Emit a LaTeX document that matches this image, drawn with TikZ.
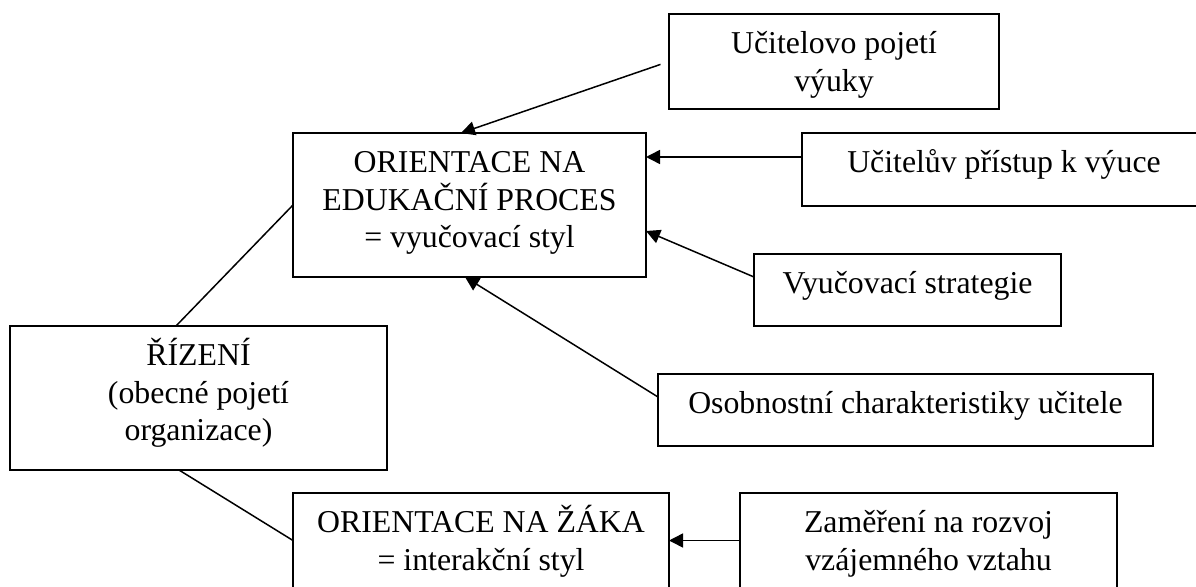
\documentclass[tikz,border=0pt]{standalone}
\usepackage{fontspec}
\setmainfont{Liberation Serif}
\usetikzlibrary{arrows.meta}
% box contents: width, height, lines (first baseline fixed below the top edge)
\newcommand{\boxlines}[3]{\parbox[c][#2][t]{#1}{\centering\rule{0pt}{39.5pt}#3}}
\tikzset{
  frame/.style={draw, line width=2.5pt, inner sep=0pt, outer sep=0pt},
  link/.style={line width=1.5pt},
  feed/.style={link, -{Triangle[length=14pt,width=14pt]}},
}
\begin{document}
\begin{tikzpicture}[x=1pt, y=-1pt, font=\fontsize{31.8}{37.5}\selectfont]
\useasboundingbox (0,0) rectangle (1196,586);
\clip (0,0) rectangle (1196,586);

% boxes
\node[frame] (b1)      at (834,61.5)   {\boxlines{330pt}{95pt}{Učitelovo pojetí\\výuky}};
\node[frame] (edu)     at (469.5,205)  {\boxlines{353pt}{144pt}{ORIENTACE NA\\EDUKAČNÍ PROCES\\= vyučovací styl}};
\node[frame] (pristup) at (1004,169.5) {\boxlines{404pt}{73pt}{Učitelův přístup k výuce}};
\node[frame] (strat)   at (907.5,290)  {\boxlines{307pt}{72pt}{Vyučovací strategie}};
\node[frame] (rizeni)  at (198.5,398)  {\boxlines{377pt}{144pt}{ŘÍZENÍ\\(obecné pojetí\\organizace)}};
\node[frame] (osob)    at (905.5,410)  {\boxlines{495pt}{72pt}{Osobnostní charakteristiky učitele}};
\node[frame] (zak)     at (481,540.5)  {\boxlines{376pt}{95pt}{ORIENTACE NA ŽÁKA\\= interakční styl}};
\node[frame] (zam)     at (928.5,540.5){\boxlines{377pt}{95pt}{Zaměření na rozvoj\\vzájemného vztahu}};

% influences on the teaching style
\draw[feed, shorten <=9pt] (b1.west) -- ([xshift=-8.5pt]edu.north);
\draw[feed] ([yshift=12.5pt]pristup.west) -- ([yshift=12.5pt]pristup.west -| edu.east);
\draw[feed] ([yshift=13pt]strat.west) -- ([yshift=-26pt]edu.east);
\draw[feed] ([yshift=13pt]osob.west) -- ([xshift=-4.5pt]edu.south);
\draw[feed] (zam.west) -- (zak.east);

% management branches
\draw[link] ([xshift=-22.5pt]rizeni.north) -- (edu.west);
\draw[link] ([xshift=-19.5pt]rizeni.south) -- (zak.west);
\end{tikzpicture}
\end{document}
